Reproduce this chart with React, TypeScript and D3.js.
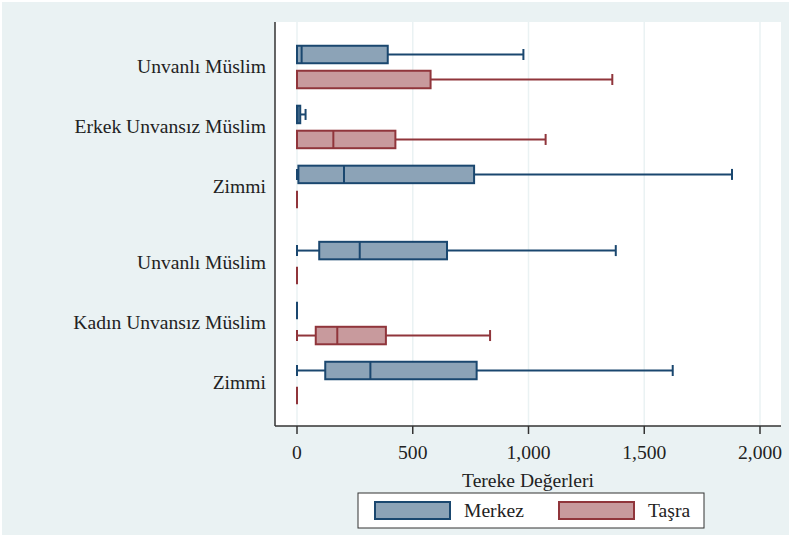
import * as d3 from 'd3'

// category labels, top to bottom; second number = over-group
const categories = ['Unvanlı Müslim', 'Erkek Unvansız Müslim', 'Zimmi', 'Unvanlı Müslim', 'Kadın Unvansız Müslim', 'Zimmi']
const groupOf = [0, 0, 0, 1, 1, 1]

// [lower whisker, q1, median, q3, upper whisker]
const merkez = [
  [0, 0, 20, 392, 978],
  [0, 0, 3, 14, 37],
  [0, 6, 203, 765, 1879],
  [0, 96, 271, 648, 1377],
  [0, 0, 0, 0, 0],
  [0, 122, 317, 776, 1623],
]
const tasra = [
  [0, 0, 0, 577, 1362],
  [0, 0, 157, 425, 1074],
  [0, 0, 0, 0, 0],
  [0, 0, 0, 0, 0],
  [0, 81, 174, 384, 834],
  [0, 0, 0, 0, 0],
]
const xTicks = [0, 500, 1000, 1500, 2000]

const W = 789
const H = 535
const PLOT = { left: 275, right: 781, top: 22, bottom: 426 }
const BG = '#EAF2F3'
const FONT = '"Liberation Serif", "DejaVu Serif", serif'
const TEXT = '#222'
const FS = 19.6
const GROUP_GAP = 0.27
const BOX_H = 17.5
const OFFSET = 12.5
const CAP_H = 11

const series = [
  { name: 'Merkez', data: merkez, stroke: '#1A476F', fill: '#8CA3B7', dy: -OFFSET },
  { name: 'Taşra', data: tasra, stroke: '#90353B', fill: '#C89A9D', dy: OFFSET },
]

export default function App() {
  const x = d3.scaleLinear().domain([0, 2000]).range([297, 760])
  const slots = categories.map((_, i) => i + groupOf[i] * GROUP_GAP)
  const y = d3.scaleLinear().domain([0, slots[slots.length - 1]]).range([67, 383])
  const fmt = d3.format(',')

  return (
    <svg width={W} height={H} style={{ position: 'absolute', left: 0, top: 0, display: 'block' }}>
      <rect x={2} y={2} width={W - 2} height={H - 2} fill={BG} />
      <rect x={PLOT.left} y={PLOT.top} width={PLOT.right - PLOT.left} height={PLOT.bottom - PLOT.top} fill="#fff" />

      {/* vertical grid */}
      {xTicks.map(t => (
        <line key={'g' + t} x1={x(t)} x2={x(t)} y1={PLOT.top} y2={PLOT.bottom} stroke={BG} strokeWidth={1.5} />
      ))}

      {/* boxes */}
      {series.map(s => (
        <g key={s.name}>
          {s.data.map((d, i) => {
            const cy = y(slots[i]) + s.dy
            const [lo, q1, med, q3, hi] = d
            return (
              <g key={i}>
                <line x1={x(lo)} x2={x(q1)} y1={cy} y2={cy} stroke={s.stroke} strokeWidth={2} />
                <line x1={x(q3)} x2={x(hi)} y1={cy} y2={cy} stroke={s.stroke} strokeWidth={2} />
                <line x1={x(lo)} x2={x(lo)} y1={cy - CAP_H / 2} y2={cy + CAP_H / 2} stroke={s.stroke} strokeWidth={2} />
                <line x1={x(hi)} x2={x(hi)} y1={cy - CAP_H / 2} y2={cy + CAP_H / 2} stroke={s.stroke} strokeWidth={2} />
                <rect x={x(q1)} y={cy - BOX_H / 2} width={x(q3) - x(q1)} height={BOX_H}
                  fill={s.fill} stroke={s.stroke} strokeWidth={2} />
                <line x1={x(med)} x2={x(med)} y1={cy - BOX_H / 2} y2={cy + BOX_H / 2} stroke={s.stroke} strokeWidth={2} />
              </g>
            )
          })}
        </g>
      ))}

      {/* axes */}
      <line x1={PLOT.left} x2={PLOT.left} y1={PLOT.top} y2={PLOT.bottom} stroke="#333" strokeWidth={1.5} />
      <line x1={PLOT.left} x2={PLOT.right} y1={PLOT.bottom} y2={PLOT.bottom} stroke="#333" strokeWidth={1.5} />
      {xTicks.map(t => (
        <g key={'t' + t}>
          <line x1={x(t)} x2={x(t)} y1={PLOT.bottom} y2={PLOT.bottom + 8} stroke="#333" strokeWidth={1.5} />
          <text x={x(t)} y={459} textAnchor="middle" fontFamily={FONT} fontSize={FS} fill={TEXT}>{fmt(t)}</text>
        </g>
      ))}
      <text x={(PLOT.left + PLOT.right) / 2} y={487} textAnchor="middle" fontFamily={FONT} fontSize={FS} fill={TEXT}>
        Tereke Değerleri
      </text>

      {/* category labels */}
      {categories.map((c, i) => (
        <text key={'c' + i} x={266} y={y(slots[i])} dy="0.3em" textAnchor="end" fontFamily={FONT} fontSize={FS} fill={TEXT}>
          {c}
        </text>
      ))}

      {/* legend */}
      <rect x={358} y={493} width={346} height={35} fill="#fff" stroke="#333" strokeWidth={1} />
      {series.map((s, i) => {
        const lx = 375 + i * 184
        return (
          <g key={'l' + s.name}>
            <rect x={lx} y={502} width={75} height={17} fill={s.fill} stroke={s.stroke} strokeWidth={2} />
            <text x={lx + 89} y={517} fontFamily={FONT} fontSize={FS} fill={TEXT}>{s.name}</text>
          </g>
        )
      })}
    </svg>
  )
}
